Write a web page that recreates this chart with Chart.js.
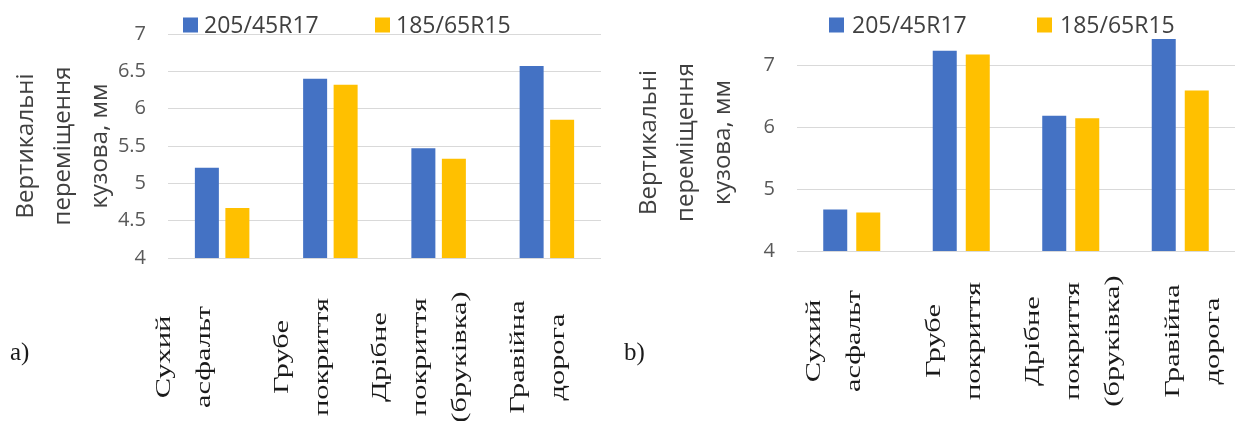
<!DOCTYPE html>
<html>
<head>
<meta charset="utf-8">
<script src="https://cdn.jsdelivr.net/npm/chart.js@4.4.1/dist/chart.umd.min.js"></script>
<style>
  html, body { margin: 0; padding: 0; background: #ffffff; }
  #wrap { position: relative; width: 1237px; height: 421px; overflow: hidden; background: #ffffff; }
  .panel { position: absolute; top: 0; height: 421px; }
  #pa { left: 0; width: 620px; }
  #pb { left: 620px; width: 617px; }
  canvas { display: block; }
</style>
</head>
<body>
<div id="wrap">
  <div class="panel" id="pa"><canvas id="ca" width="620" height="421"></canvas></div>
  <div class="panel" id="pb"><canvas id="cb" width="617" height="421"></canvas></div>
</div>
<script>
// Road surfaces (multi-line category labels)
const categories = [
  ['Сухий', 'асфальт'],
  ['Грубе', 'покриття'],
  ['Дрібне', 'покриття', '(бруківка)'],
  ['Гравійна', 'дорога']
];
// Tyre sizes
const seriesNames = ['205/45R17', '185/65R15'];
const seriesColors = ['#4472C4', '#FFC000'];

// Panel a) vertical body displacement, mm
const panelA_205 = [5.21, 6.40, 5.47, 6.57];
const panelA_185 = [4.67, 6.32, 5.33, 5.85];
// Panel b) vertical body displacement, mm
const panelB_205 = [4.67, 7.23, 6.18, 7.42];
const panelB_185 = [4.62, 7.17, 6.14, 6.59];

// Value-axis ticks
const ticksA = [4, 4.5, 5, 5.5, 6, 6.5, 7];
const ticksB = [4, 5, 6, 7];

const axisTitle = ['Вертикальні', 'переміщення', 'кузова, мм'];

// Draws the legend, the rotated serif category labels and the panel tag
const panelDecor = {
  id: 'panelDecor',
  afterDraw(chart, args, o) {
    const ctx = chart.ctx;
    const xs = chart.scales.x;
    const area = chart.chartArea;
    const mid = (area.left + area.right) / 2;
    ctx.save();

    // legend
    ctx.font = o.legendFont + 'px "Open Sans"';
    ctx.textBaseline = 'middle';
    ctx.textAlign = 'left';
    chart.data.datasets.forEach((ds, i) => {
      const bx = o.legendX + i * o.legendPitch;
      ctx.fillStyle = ds.backgroundColor;
      ctx.fillRect(bx, o.legendY - o.box / 2, o.box, o.box);
      ctx.fillStyle = '#404040';
      ctx.fillText(ds.label, bx + o.box + o.legendGap, o.legendY + 1);
    });

    // category labels, reading bottom to top
    ctx.font = o.catFont + 'px "Liberation Serif"';
    ctx.fillStyle = '#1a1a1a';
    ctx.textAlign = 'center';
    ctx.textBaseline = 'middle';
    chart.data.labels.forEach((lab, i) => {
      const cx = mid + (xs.getPixelForValue(i) - mid) * o.spread + o.shift;
      lab.forEach((line, j) => {
        const lx = cx + (j - (lab.length - 1) / 2) * o.lineGap;
        ctx.save();
        ctx.translate(lx, o.catY);
        ctx.rotate(-Math.PI / 2);
        ctx.scale(o.stretch, 1);
        ctx.fillText(line, 0, 0);
        ctx.restore();
      });
    });

    // panel tag
    ctx.font = o.tagFont + 'px "Liberation Serif"';
    ctx.textAlign = 'left';
    ctx.fillStyle = '#1a1a1a';
    ctx.fillText(o.tag, o.tagX, o.tagY);
    ctx.restore();
  }
};

function makeChart(id, d205, d185, tickVals, cfg) {
  return new Chart(document.getElementById(id), {
    type: 'bar',
    data: {
      labels: categories,
      datasets: [
        { label: seriesNames[0], data: d205, backgroundColor: seriesColors[0] },
        { label: seriesNames[1], data: d185, backgroundColor: seriesColors[1] }
      ]
    },
    options: {
      responsive: false,
      animation: false,
      devicePixelRatio: 1,
      layout: { padding: { top: cfg.top, right: cfg.right, left: 0, bottom: 0 } },
      datasets: {
        bar: { categoryPercentage: cfg.catPct, barPercentage: cfg.barPct }
      },
      plugins: {
        legend: { display: false },
        tooltip: { enabled: false },
        panelDecor: cfg.decor
      },
      scales: {
        x: {
          ticks: { display: false },
          grid: { display: false },
          border: { display: false },
          afterFit: s => { s.height = cfg.xHeight; }
        },
        y: {
          min: tickVals[0],
          max: cfg.max,
          afterBuildTicks: s => { s.ticks = tickVals.map(v => ({ value: v })); },
          afterFit: s => { s.width = cfg.yWidth; },
          ticks: {
            padding: 22,
            color: '#595959',
            font: { family: 'Open Sans', size: 20 },
            callback: v => String(v)
          },
          grid: { color: '#d9d9d9', lineWidth: 1, drawTicks: false },
          border: { display: false },
          title: {
            display: true,
            text: axisTitle,
            color: '#404040',
            font: { family: 'Open Sans', size: 24, lineHeight: 1.54 },
            padding: { top: cfg.titlePad, bottom: 0 }
          }
        }
      }
    },
    plugins: [panelDecor]
  });
}

makeChart('ca', panelA_205, panelA_185, ticksA, {
  top: 34, right: 19, xHeight: 163, yWidth: 168, max: 7,
  catPct: 0.5635, barPct: 0.787, titlePad: 8,
  decor: {
    legendX: 183, legendPitch: 192, legendY: 25, box: 15, legendGap: 6, legendFont: 23,
    catFont: 21, stretch: 1.45, catY: 357, spread: 1.09, shift: -23, lineGap: 40,
    tag: 'a)', tagX: 10, tagY: 353, tagFont: 25
  }
});

makeChart('cb', panelB_205, panelB_185, ticksB, {
  top: 32, right: 2, xHeight: 170, yWidth: 177, max: 7.5,
  catPct: 0.603, barPct: 0.727, titlePad: 11,
  decor: {
    legendX: 209, legendPitch: 208, legendY: 25, box: 15, legendGap: 8, legendFont: 23,
    catFont: 21, stretch: 1.45, catY: 341, spread: 1.09, shift: -2, lineGap: 40,
    tag: 'b)', tagX: 4, tagY: 353, tagFont: 25
  }
});
</script>
</body>
</html>
